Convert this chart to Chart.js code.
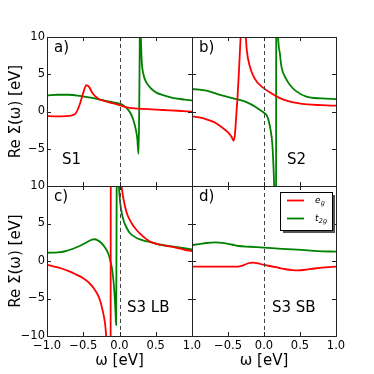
<!DOCTYPE html>
<html><head><meta charset="utf-8">
<script src="https://cdn.jsdelivr.net/npm/chart.js@4/dist/chart.umd.min.js"></script>
<style>
html,body{margin:0;padding:0;background:#fff;}
#wrap{position:relative;width:374px;height:374px;background:#fff;}
canvas{position:absolute;left:0;top:0;}
</style></head><body>
<div id="wrap">
<canvas id="ca" width="374" height="374"></canvas>
<canvas id="cb" width="374" height="374"></canvas>
<canvas id="cc" width="374" height="374"></canvas>
<canvas id="cd" width="374" height="374"></canvas>
</div>
<script>
// ---- ticks ----
const xTickValues = [-1.0, -0.5, 0.0, 0.5, 1.0];
const xTickLabels = ['\u22121.0', '\u22120.5', '0.0', '0.5', '1.0'];
const yTickValues = [-10, -5, 0, 5, 10];
const yTickLabels = ['\u221210', '\u22125', '0', '5', '10'];
const seriesNames = ['e_g', 't_2g'];
const panelTags = ['a)', 'b)', 'c)', 'd)'];
const panelNames = ['S1', 'S2', 'S3 LB', 'S3 SB'];

// ---- S1 ----
const wS1_eg = [-1.0,-0.9,-0.8,-0.7,-0.65,-0.6,-0.55,-0.5,-0.46,-0.42,-0.38,-0.33,-0.28,-0.2,-0.1,0.0,0.1,0.2,0.4,0.6,0.8,1.0];
const vS1_eg = [-0.62,-0.65,-0.65,-0.6,-0.5,-0.2,0.9,2.5,3.55,3.3,2.6,2.0,1.65,1.4,1.12,0.85,0.55,0.42,0.33,0.2,0.1,-0.03];
const wS1_t2g = [-1.0,-0.85,-0.7,-0.55,-0.4,-0.25,-0.1,0.0,0.05,0.1,0.15,0.19,0.22,0.245,0.262,0.27,0.277,0.284,0.292,0.305,0.33,0.377,0.45,0.515,0.6,0.745,0.9,1.0];
const vS1_t2g = [2.15,2.25,2.25,2.1,1.85,1.55,1.25,1.05,0.85,0.45,-0.2,-1.1,-2.2,-3.6,-5.7,-1.5,6,14,11,7,5.0,3.8,2.95,2.5,2.2,1.8,1.6,1.5];

// ---- S2 ----
const wS2_eg = [-1.0,-0.9,-0.8,-0.7,-0.6,-0.5,-0.45,-0.425,-0.405,-0.385,-0.37,-0.35,-0.33,-0.3,-0.27,-0.255,-0.24,-0.195,-0.15,-0.1,-0.05,0.0,0.1,0.22,0.35,0.45,0.6,0.8,1.0];
const vS2_eg = [-0.65,-0.8,-1.05,-1.4,-2.0,-2.8,-3.4,-3.9,-3.2,-0.5,1.6,5.0,9.0,13,13,10.5,8.3,6.0,4.8,4.0,3.5,3.1,2.45,1.8,1.35,1.15,0.95,0.85,0.78];
const wS2_t2g = [-1.0,-0.9,-0.8,-0.6,-0.4,-0.3,-0.2,-0.1,-0.01,0.045,0.09,0.115,0.13,0.141,0.155,0.165,0.172,0.18,0.196,0.22,0.243,0.3,0.358,0.45,0.588,0.8,1.0];
const vS2_t2g = [3.0,2.95,2.8,2.2,1.7,1.45,1.05,0.5,-0.1,-0.65,-2.4,-4.3,-7,-10,-16,-30,30,16,10,7.8,6.0,4.5,3.6,2.7,2.0,1.75,1.67];

// ---- S3 LB ----
const wS3L_eg = [-1.0,-0.9,-0.8,-0.7,-0.6,-0.5,-0.41,-0.35,-0.3,-0.27,-0.24,-0.2,-0.18,-0.16,-0.14,-0.125,-0.118,-0.1,-0.07,-0.04,0.0,0.03,0.06,0.1,0.17,0.238,0.3,0.42,0.55,0.745,0.9,1.0];
const vS3L_eg = [-0.5,-0.75,-1.0,-1.35,-1.8,-2.3,-3.0,-3.7,-4.5,-5.2,-6.3,-8.3,-10.5,-14,-20,-30,30,22,17,14,11.5,9.8,8.0,6.4,5.0,4.1,3.5,2.6,2.2,1.85,1.5,1.33];
const wS3L_t2g = [-1.0,-0.85,-0.75,-0.65,-0.55,-0.45,-0.38,-0.34,-0.3,-0.25,-0.2,-0.155,-0.125,-0.108,-0.09,-0.076,-0.062,-0.052,-0.047,-0.043,-0.039,-0.03,-0.02,-0.01,0.0,0.02,0.053,0.1,0.145,0.25,0.39,0.55,0.745,1.0];
const vS3L_t2g = [1.1,1.15,1.3,1.6,2.0,2.5,2.85,2.9,2.75,2.4,1.8,1.0,0.0,-0.75,-2.0,-3.4,-5.5,-7.5,-8.5,-2,10,16,14,10.5,8.8,7.0,5.5,4.4,3.7,3.0,2.6,2.2,1.9,1.55];

// ---- S3 SB ----
const wS3S_eg = [-1.0,-0.8,-0.6,-0.4,-0.34,-0.28,-0.22,-0.15,-0.1,-0.05,0.0,0.1,0.2,0.3,0.4,0.47,0.55,0.7,0.85,1.0];
const vS3S_eg = [-0.76,-0.76,-0.76,-0.75,-0.72,-0.55,-0.3,-0.22,-0.28,-0.4,-0.53,-0.7,-0.9,-1.1,-1.22,-1.25,-1.2,-1.0,-0.85,-0.76];
const wS3S_t2g = [-1.0,-0.9,-0.8,-0.68,-0.55,-0.45,-0.356,-0.2,0.0,0.25,0.52,0.75,1.0];
const vS3S_t2g = [2.13,2.25,2.4,2.49,2.38,2.2,2.0,1.9,1.78,1.62,1.47,1.33,1.24];

const seriesColors = ['#ff0000', '#008000'];
const FONT = 'DejaVu Sans';

function pts(w, v) { return w.map((x, i) => ({x: x, y: v[i]})); }

const deco = {
  id: 'deco',
  afterDatasetsDraw(chart, args, o) {
    const {ctx, chartArea: a, scales} = chart;
    const x = scales.x, y = scales.y;
    ctx.save();
    // dashed zero line
    const x0 = Math.round(x.getPixelForValue(0)) + 0.5;
    ctx.strokeStyle = '#444'; ctx.lineWidth = 1; ctx.setLineDash([4, 3]);
    ctx.beginPath(); ctx.moveTo(x0, a.top); ctx.lineTo(x0, a.bottom); ctx.stroke();
    ctx.setLineDash([]);
    // inward ticks on all sides
    ctx.strokeStyle = '#222';
    ctx.beginPath();
    xTickValues.forEach(v => {
      const p = Math.round(x.getPixelForValue(v)) + 0.5;
      ctx.moveTo(p, a.bottom); ctx.lineTo(p, a.bottom - 4);
      ctx.moveTo(p, a.top); ctx.lineTo(p, a.top + 4);
    });
    yTickValues.forEach(v => {
      const p = Math.round(y.getPixelForValue(v)) + 0.5;
      ctx.moveTo(a.left, p); ctx.lineTo(a.left + 4, p);
      ctx.moveTo(a.right, p); ctx.lineTo(a.right - 4, p);
    });
    ctx.stroke();
    // frame
    const L = Math.round(a.left) + 0.5, T = Math.round(a.top) + 0.5;
    ctx.strokeRect(L, T, Math.round(a.right) - Math.round(a.left), Math.round(a.bottom) - Math.round(a.top));
    // panel texts
    ctx.fillStyle = '#000';
    ctx.font = '15px "' + FONT + '"';
    ctx.textBaseline = 'middle'; ctx.textAlign = 'left';
    ctx.fillText(o.tag, a.left + 7, a.top + 11.5);
    ctx.fillText(o.name, a.left + o.nx, a.top + o.ny);
    // legend
    if (o.legend) {
      const bx = a.left + 88, by = a.top + 6, bw = 52, bh = 38;
      ctx.fillStyle = '#555';
      ctx.fillRect(bx + 3, by + 3, bw, bh);
      ctx.fillStyle = '#fff';
      ctx.fillRect(bx, by, bw, bh);
      ctx.strokeStyle = '#000'; ctx.lineWidth = 1;
      ctx.strokeRect(Math.round(bx) + 0.5, Math.round(by) + 0.5, bw, bh);
      chart.data.datasets.forEach((ds, i) => {
        const ly = by + 8.5 + i * 18;
        ctx.strokeStyle = ds.borderColor; ctx.lineWidth = 1.8;
        ctx.beginPath(); ctx.moveTo(bx + 7, ly); ctx.lineTo(bx + 24, ly); ctx.stroke();
        const parts = ds.label.split('_');
        ctx.fillStyle = '#000';
        ctx.font = 'italic 9px "' + FONT + '"';
        ctx.textBaseline = 'alphabetic';
        ctx.fillText(parts[0], bx + 35, ly + 2);
        const w0 = ctx.measureText(parts[0]).width;
        ctx.font = 'italic 6.5px "' + FONT + '"';
        ctx.fillText(parts[1], bx + 35 + w0 + 0.3, ly + 4.5);
      });
    }
    ctx.restore();
  }
};

const panels = [
  {id: 'ca', rect: {l: 47, t: 37, r: 192, b: 186}, k: 0, nx: 15, ny: 123, showX: false, showY: true, hideX: [], hideY: [0], legend: false,
   series: [[wS1_eg, vS1_eg], [wS1_t2g, vS1_t2g]]},
  {id: 'cb', rect: {l: 192, t: 37, r: 336, b: 186}, k: 1, nx: 95, ny: 123, showX: false, showY: false, hideX: [], hideY: [], legend: false,
   series: [[wS2_eg, vS2_eg], [wS2_t2g, vS2_t2g]]},
  {id: 'cc', rect: {l: 47, t: 186, r: 192, b: 336}, k: 2, nx: 80, ny: 122.5, showX: true, showY: true, hideX: [], hideY: [], legend: false,
   series: [[wS3L_eg, vS3L_eg], [wS3L_t2g, vS3L_t2g]]},
  {id: 'cd', rect: {l: 192, t: 186, r: 336, b: 336}, k: 3, nx: 80, ny: 122.5, showX: true, showY: false, hideX: [0], hideY: [], legend: true,
   series: [[wS3S_eg, vS3S_eg], [wS3S_t2g, vS3S_t2g]]}
];

panels.forEach(p => {
  const tickFont = {family: FONT, size: 11.5};
  const titleFont = {family: FONT, size: 15};
  new Chart(document.getElementById(p.id), {
    type: 'scatter',
    data: {
      datasets: p.series.map((s, i) => ({
        label: seriesNames[i],
        data: pts(s[0], s[1]),
        showLine: true,
        borderColor: seriesColors[i],
        backgroundColor: seriesColors[i],
        borderWidth: 1.8,
        pointRadius: 0,
        pointHoverRadius: 0,
        cubicInterpolationMode: 'monotone',
        fill: false
      }))
    },
    options: {
      responsive: false,
      animation: false,
      devicePixelRatio: 1,
      events: [],
      layout: {padding: {left: 0, top: p.rect.t, right: 374 - p.rect.r, bottom: 0}},
      plugins: {
        legend: {display: false},
        tooltip: {enabled: false},
        deco: {tag: panelTags[p.k], name: panelNames[p.k], nx: p.nx, ny: p.ny, legend: p.legend}
      },
      scales: {
        x: {
          type: 'linear', position: 'bottom', min: -1, max: 1,
          afterFit: s => { s.height = 374 - p.rect.b; },
          afterBuildTicks: s => { s.ticks = xTickValues.map(v => ({value: v})); },
          grid: {display: false, drawTicks: false},
          border: {display: false},
          ticks: {display: p.showX, autoSkip: false, maxRotation: 0, minRotation: 0, padding: 3, color: '#000', font: tickFont,
                  callback: (v, i) => p.hideX.includes(i) ? '' : xTickLabels[i]},
          title: {display: p.showX, text: '\u03c9 [eV]', color: '#000', font: titleFont, padding: {top: 0, bottom: 4}}
        },
        y: {
          type: 'linear', position: 'left', min: -10, max: 10,
          afterFit: s => { s.width = p.rect.l; },
          afterBuildTicks: s => { s.ticks = yTickValues.map(v => ({value: v})); },
          grid: {display: false, drawTicks: false},
          border: {display: false},
          ticks: {display: p.showY, autoSkip: false, padding: 2, color: '#000', font: tickFont,
                  callback: (v, i) => p.hideY.includes(i) ? '' : yTickLabels[i]},
          title: {display: p.showY, text: 'Re \u03a3(\u03c9) [eV]', color: '#000', font: titleFont, padding: {top: 7, bottom: 0}}
        }
      }
    },
    plugins: [deco]
  });
});
</script>
</body></html>
